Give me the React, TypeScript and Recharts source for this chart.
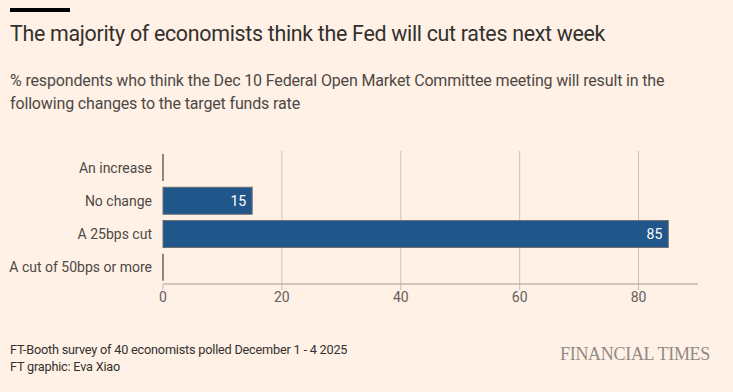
import { BarChart, Bar, XAxis, YAxis, CartesianGrid, LabelList } from "recharts";

const categories = ["An increase", "No change", "A 25bps cut", "A cut of 50bps or more"];
const shares = [0, 15, 85, 0];
const xTicks = [0, 20, 40, 60, 80];
const gridValues = [20, 40, 60, 80];

const chartData = categories.map((name, i) => ({ name, value: shares[i] }));

const font = "Roboto, 'Noto Sans', sans-serif";

const BarShape = (props: any) => {
  const { x, y, width, height } = props;
  if (!width) {
    return <line x1={x} x2={x} y1={y} y2={y + height} stroke="#8f8680" strokeWidth={2} />;
  }
  return <rect x={x} y={y} width={width} height={height} fill="#20568a" stroke="#6f6f6f" strokeWidth={1} />;
};

const App = () => {
  return (
    <div style={{ position: "absolute", top: 0, left: 0, width: 733, height: 392, background: "#fff1e5", fontFamily: font, overflow: "hidden" }}>
      <div style={{ position: "absolute", left: 10, top: 8, width: 60, height: 4, background: "#000" }} />
      <div style={{ position: "absolute", left: 10, top: 21, fontSize: 21.4, color: "#33302e", whiteSpace: "nowrap", letterSpacing: -0.3 }}>
        The majority of economists think the Fed will cut rates next week
      </div>
      <div style={{ position: "absolute", left: 10, top: 69, width: 675, fontSize: 16, lineHeight: "23px", color: "#4d4845", letterSpacing: -0.15 }}>
        % respondents who think the Dec 10 Federal Open Market Committee meeting will result in the following changes to the target funds rate
      </div>

      <div style={{ position: "absolute", left: 0, top: 0 }}>
        <BarChart
          width={733}
          height={320}
          data={chartData}
          layout="vertical"
          margin={{ top: 151, right: 35, left: 0, bottom: 6 }}
          barCategoryGap={3}
        >
          <CartesianGrid horizontal={false} verticalValues={gridValues} stroke="#cec2b8" />
          <XAxis
            type="number"
            domain={[0, 90]}
            ticks={xTicks}
            height={30}
            axisLine={{ stroke: "#a59c95" }}
            tickLine={{ stroke: "#c9bdb3" }}
            tickSize={6}
            tickMargin={2}
            tick={{ fontSize: 14, fill: "#66605c", fontFamily: font }}
          />
          <YAxis
            type="category"
            dataKey="name"
            width={163}
            axisLine={false}
            tickLine={false}
            tickSize={0}
            tickMargin={11}
            tick={{ fontSize: 14, fill: "#4d4845", fontFamily: font }}
          />
          <Bar dataKey="value" shape={BarShape} isAnimationActive={false}>
            <LabelList
              dataKey="value"
              position="insideRight"
              offset={6}
              fill="#ffffff"
              fontSize={14}
              fontFamily={font}
              formatter={(v: any) => (v ? v : "")}
            />
          </Bar>
        </BarChart>
      </div>

      <div style={{ position: "absolute", left: 10, top: 341, fontSize: 12.7, lineHeight: "17px", color: "#33302e", letterSpacing: -0.2 }}>
        <div>FT-Booth survey of 40 economists polled December 1 - 4 2025</div>
        <div>FT graphic: Eva Xiao</div>
      </div>
      <div style={{ position: "absolute", right: 23, top: 344, fontSize: 18, color: "#918a85", fontFamily: "'Liberation Serif', 'DejaVu Serif', serif", letterSpacing: -0.3 }}>
        FINANCIAL TIMES
      </div>
    </div>
  );
};

export default App;
